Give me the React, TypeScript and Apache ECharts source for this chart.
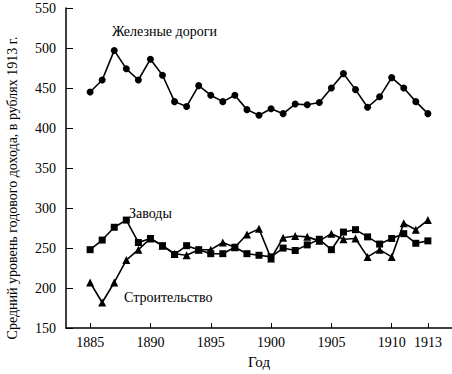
import React, { useEffect, useRef } from "react";
import * as echarts from "echarts";

const years = [1885,1886,1887,1888,1889,1890,1891,1892,1893,1894,1895,1896,1897,1898,1899,1900,1901,1902,1903,1904,1905,1906,1907,1908,1909,1910,1911,1912,1913];
const railways = [445,460,497,474,460,486,466,433,427,453,441,433,441,423,416,424,418,430,429,432,450,468,448,426,439,463,450,433,418];
const factories = [248,260,276,285,257,262,253,242,253,248,243,243,251,243,241,239,250,247,254,261,248,270,273,264,255,262,268,256,259];
const construction = [207,182,207,235,248,262,253,243,241,248,248,257,251,267,274,237,263,265,264,259,268,261,262,239,248,239,281,273,285];
const xTicks = [1885,1890,1895,1900,1905,1910,1913];

const FONT = "Liberation Serif";

export default function App() {
  const ref = useRef<HTMLDivElement>(null);
  useEffect(() => {
    if (!ref.current) return;
    const chart = echarts.init(ref.current, null, { renderer: "svg" });
    const mk = (vals: number[], symbol: string, size: number) => ({
      type: "line",
      data: years.map((y, i) => [y, vals[i]]),
      symbol,
      symbolSize: size,
      lineStyle: { color: "#000", width: 1.6 },
      itemStyle: { color: "#000" },
    });
    chart.setOption({
      animation: false,
      backgroundColor: "#fff",
      textStyle: { fontFamily: FONT },
      grid: { left: 66, right: 0, top: 8, bottom: 36 },
      xAxis: {
        type: "value",
        min: 1883,
        max: 1915,
        name: "Год",
        nameLocation: "middle",
        nameGap: 22,
        nameTextStyle: { fontFamily: FONT, fontSize: 15, color: "#000" },
        axisLine: { lineStyle: { color: "#000", width: 1.5 } },
        axisTick: { inside: true, length: 5, customValues: xTicks, lineStyle: { color: "#000" } },
        axisLabel: {
          customValues: xTicks,
          formatter: (v: number) => String(v),
          fontFamily: FONT, fontSize: 14, color: "#000", margin: 7,
        },
        splitLine: { show: false },
      },
      yAxis: {
        type: "value",
        min: 150,
        max: 550,
        interval: 50,
        axisLine: { show: true, lineStyle: { color: "#000", width: 1.5 } },
        axisTick: { show: true, inside: true, length: 7, lineStyle: { color: "#000" } },
        axisLabel: { fontFamily: FONT, fontSize: 14, color: "#000", margin: 10 },
        splitLine: { show: false },
      },
      graphic: [
        {
          type: "text",
          x: 12,
          y: 188,
          rotation: Math.PI / 2,
          style: {
            text: "Средний уровень годового дохода, в рублях 1913 г.",
            fontFamily: FONT,
            fontSize: 14,
            fill: "#000",
            textAlign: "center",
            textVerticalAlign: "middle",
          },
        },
        {
          type: "text", x: 112, y: 31,
          style: { text: "Железные дороги", fontFamily: FONT, fontSize: 14, fill: "#000", textVerticalAlign: "middle" },
        },
        {
          type: "text", x: 129, y: 213,
          style: { text: "Заводы", fontFamily: FONT, fontSize: 14, fill: "#000", textVerticalAlign: "middle" },
        },
        {
          type: "text", x: 124, y: 297,
          style: { text: "Строительство", fontFamily: FONT, fontSize: 14, fill: "#000", textVerticalAlign: "middle" },
        },
      ],
      series: [
        mk(railways, "circle", 7),
        mk(factories, "rect", 7),
        mk(construction, "triangle", 8),
      ],
    });
    return () => chart.dispose();
  }, []);
  return <div ref={ref} style={{ width: 452, height: 374, position: "absolute", left: 0, top: 0 }} />;
}
